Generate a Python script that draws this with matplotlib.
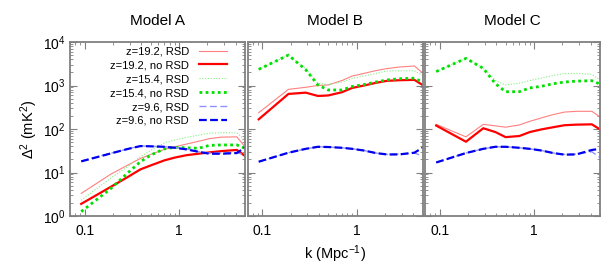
import numpy as np
import matplotlib
matplotlib.use("Agg")
import matplotlib.pyplot as plt
from matplotlib.ticker import LogLocator, FixedLocator, FixedFormatter, NullFormatter

plt.rcParams["font.family"] = ["Liberation Sans", "DejaVu Sans"]
plt.rcParams["mathtext.fontset"] = "custom"
plt.rcParams["mathtext.rm"] = "Liberation Sans"
plt.rcParams["mathtext.it"] = "Liberation Sans"
plt.rcParams["mathtext.default"] = "regular"

# ---------- data ----------
k = [0.092, 0.19, 0.29, 0.39, 0.5, 0.7, 0.9, 1.2, 1.6, 2.1, 2.8, 4.1, 5.0]

models = ["Model A", "Model B", "Model C"]

# Model A
a_z192_rsd = [3.3, 9.2, 15, 21, 26, 34, 39, 45, 52, 60, 65, 66, 39]
a_z192_nor = [1.9, 4.7, 8, 11.8, 14.5, 19, 22, 25, 27, 29, 31, 33, 24]
a_z154_rsd = [2.3, 7.5, 14, 23, 32, 48, 56, 64, 72, 80, 82, 82, 55]
a_z154_nor = [1.26, 4.3, 10, 17.7, 25, 35, 38, 37, 36, 42, 43, 43, 36]
a_z96_rsd = [18.4, 27.7, 35, 40.7, 40, 39, 38, 35, 30, 28, 28, 29, 25]
a_z96_nor = [18, 27.5, 35, 40.5, 40, 39, 37, 34, 30, 27, 27, 28, 38]

# Model B
b_z192_rsd = [237, 815, 910, 1000, 1030, 1300, 1650, 1900, 2200, 2450, 2650, 2810, 1960]
b_z192_nor = [167, 640, 685, 575, 590, 700, 880, 1000, 1150, 1280, 1320, 1350, 1030]
b_z154_rsd = [2350, 5000, 2400, 1130, 1050, 1200, 1450, 1650, 1900, 2150, 2180, 2180, 1700]
b_z154_nor = [2350, 5000, 2300, 1030, 790, 790, 950, 1050, 1200, 1340, 1430, 1470, 1200]
b_z96_rsd = [17.7, 28.5, 35, 39, 38.5, 37, 35, 32, 28, 26, 26.5, 28, 24]
b_z96_nor = [17.7, 28.5, 35, 39, 38.5, 37, 35, 32, 28, 26, 26, 28.5, 37]

# Model C
c_z192_rsd = [128, 66, 128, 118, 110, 124, 150, 180, 215, 245, 255, 255, 190]
c_z192_nor = [120, 51, 104, 85, 65, 69, 85, 98, 110, 122, 126, 128, 98]
c_z154_rsd = [2090, 4200, 2500, 1300, 1030, 1130, 1300, 1480, 1700, 1880, 1900, 1800, 1340]
c_z154_nor = [2090, 4200, 2480, 1100, 720, 720, 880, 960, 1100, 1200, 1260, 1290, 1080]
c_z96_rsd = [17, 28, 35, 39, 39, 37, 35, 32, 28, 26, 26.5, 30, 22]
c_z96_nor = [17, 28, 35, 39, 39, 37, 35, 32, 28, 25.7, 26, 33, 35]

labels = ["z=19.2, RSD", "z=19.2, no RSD", "z=15.4, RSD",
          "z=15.4, no RSD", "z=9.6, RSD", "z=9.6, no RSD"]

panels = [
    [a_z192_rsd, a_z192_nor, a_z154_rsd, a_z154_nor, a_z96_rsd, a_z96_nor],
    [b_z192_rsd, b_z192_nor, b_z154_rsd, b_z154_nor, b_z96_rsd, b_z96_nor],
    [c_z192_rsd, c_z192_nor, c_z154_rsd, c_z154_nor, c_z96_rsd, c_z96_nor],
]

styles = [
    dict(color="#ff8080", lw=0.8, ls="-"),
    dict(color="#ff0000", lw=1.6, ls="-"),
    dict(color="#80f080", lw=0.8, ls=(0, (1, 1.5))),
    dict(color="#00e000", lw=2.0, ls=(0, (1, 1.2))),
    dict(color="#9090ff", lw=1.0, ls=(0, (5, 2.5))),
    dict(color="#0000ee", lw=1.6, ls=(0, (3.5, 1.5))),
]

# ---------- figure ----------
fig = plt.figure(figsize=(6.15, 2.72), dpi=100)
left0 = 70 / 615
w = 175 / 615
gap = 2.5 / 615
bottom = 1 - 216 / 272
h = (216 - 42) / 272

frame_col = "#808080"
for i, (title, series) in enumerate(zip(models, panels)):
    ax = fig.add_axes([left0 + i * (w + gap), bottom, w, h])
    for vals, lab, st in zip(series, labels, styles):
        ax.plot(k, vals, label=lab, **st)
    ax.set_xscale("log")
    ax.set_yscale("log")
    ax.set_xlim(0.07, 5.0)
    ax.set_ylim(1, 1e4)
    ax.set_title(title, fontsize=11, pad=12)

    for s in ax.spines.values():
        s.set_color(frame_col)
        s.set_linewidth(1.3)
    ax.tick_params(which="both", direction="in", top=True, right=True,
                   color=frame_col, labelsize=10)
    ax.tick_params(which="major", length=5, width=0.8)
    ax.tick_params(which="minor", length=2.5, width=0.6)
    ax.xaxis.set_major_locator(FixedLocator([0.1, 1]))
    ax.xaxis.set_major_formatter(FixedFormatter(["0.1", "1"]))
    ax.xaxis.set_minor_locator(LogLocator(base=10, subs=np.arange(2, 10)))
    ax.xaxis.set_minor_formatter(NullFormatter())
    ax.yaxis.set_major_locator(LogLocator(base=10, numticks=10))
    ax.yaxis.set_minor_locator(LogLocator(base=10, subs=np.arange(2, 10), numticks=20))
    ax.yaxis.set_minor_formatter(NullFormatter())
    ax.tick_params(axis="x", pad=6)
    if i > 0:
        ax.set_yticklabels([])
    else:
        ax.set_ylabel(r"$\Delta^2$ (mK$^2$)", fontsize=10.5, labelpad=2)
        ax.legend(loc="upper right", bbox_to_anchor=(0.92, 1.0), fontsize=8,
                  frameon=False, markerfirst=False, handlelength=2.5,
                  labelspacing=0.35, borderaxespad=0.0, handletextpad=0.9)
    if i == 1:
        ax.set_xlabel(r"k (Mpc$^{-1}$)", fontsize=10.5, labelpad=4)

fig.savefig("out.png", dpi=100)
